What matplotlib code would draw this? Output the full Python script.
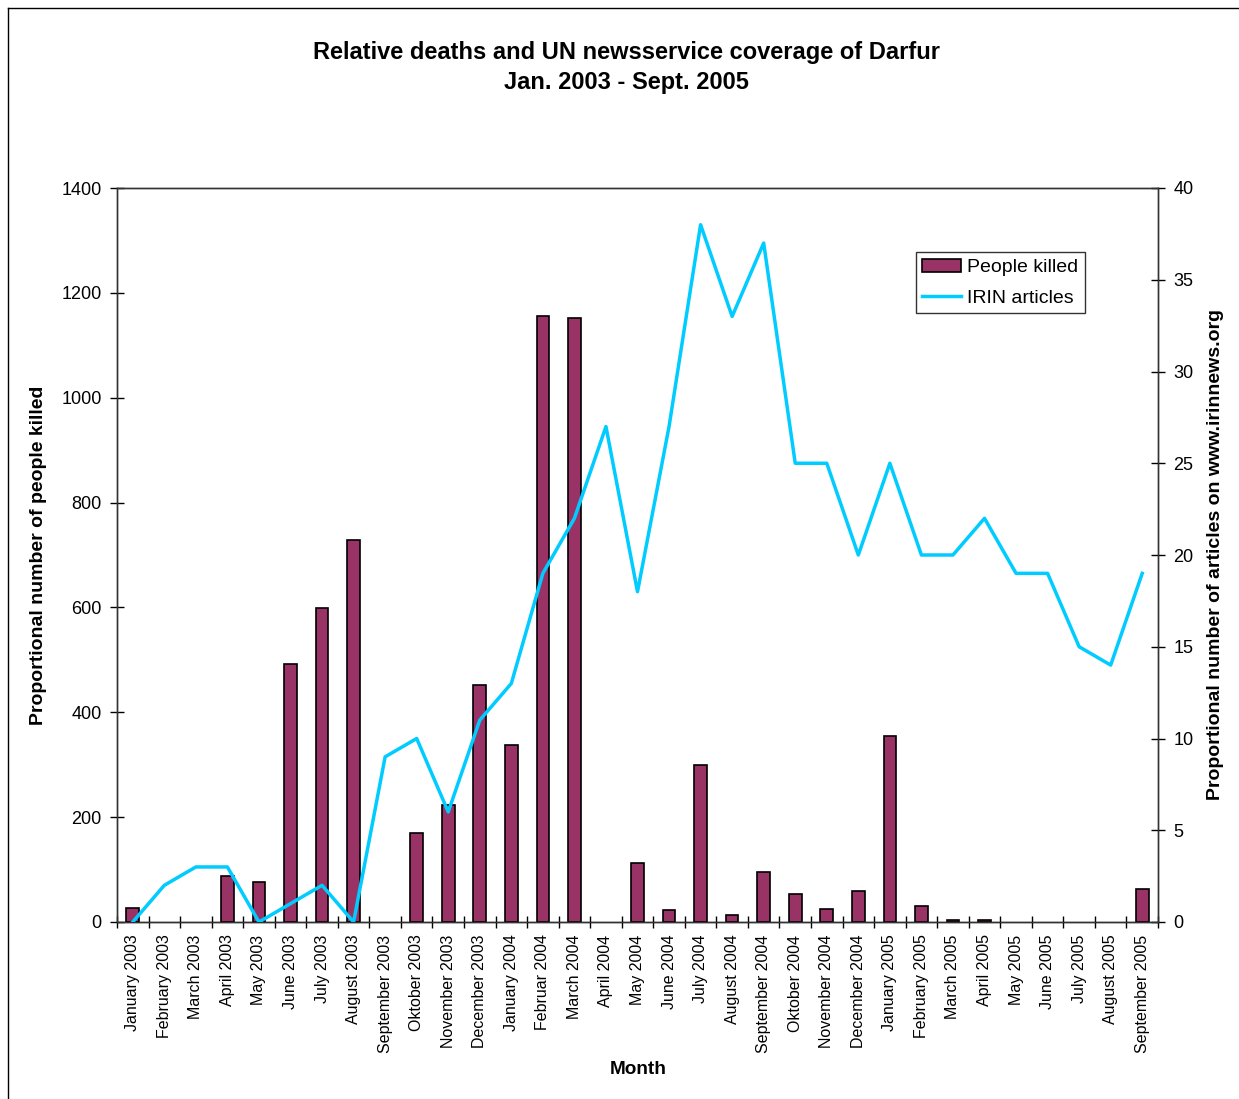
import matplotlib
matplotlib.use("Agg")
import matplotlib.pyplot as plt
from matplotlib.lines import Line2D
import numpy as np

plt.rcParams['font.family'] = ['Liberation Sans', 'DejaVu Sans']

months = ["January 2003", "February 2003", "March 2003", "April 2003", "May 2003",
          "June 2003", "July 2003", "August 2003", "September 2003", "Oktober 2003",
          "November 2003", "December 2003", "January 2004", "Februar 2004", "March 2004",
          "April 2004", "May 2004", "June 2004", "July 2004", "August 2004",
          "September 2004", "Oktober 2004", "November 2004", "December 2004", "January 2005",
          "February 2005", "March 2005", "April 2005", "May 2005", "June 2005",
          "July 2005", "August 2005", "September 2005"]
people_killed = [27, 0, 0, 88, 76, 492, 599, 729, 0, 170, 223, 452, 338, 1156, 1152,
                 0, 113, 23, 299, 13, 95, 53, 25, 59, 355, 30, 3, 3, 0, 0, 0, 0, 63]
irin_articles = [0, 2, 3, 3, 0, 1, 2, 0, 9, 10, 6, 11, 13, 19, 22, 27, 18, 27, 38, 33,
                 37, 25, 25, 20, 25, 20, 20, 22, 19, 19, 15, 14, 19]

fig = plt.figure(figsize=(12.39, 10.99), dpi=100)
ax = fig.add_axes([117/1239, 1-922/1099, (1158-117)/1239, (922-188)/1099])
ax2 = ax.twinx()

x = np.arange(len(months))
pk = np.array(people_killed, dtype=float)
mask = pk > 0
bars = ax.bar(x[mask], pk[mask], width=0.4, color='#993366', edgecolor='black',
              linewidth=1.2, label='People killed', zorder=2)
line, = ax2.plot(x, irin_articles, color='#00CCFF', linewidth=2.5, label='IRIN articles',
                 zorder=3)

ax.set_xlim(-0.5, len(months) - 0.5)
ax.set_ylim(0, 1400)
ax2.set_ylim(0, 40)
ax.set_yticks(np.arange(0, 1401, 200))
ax2.set_yticks(np.arange(0, 41, 5))

ax.set_xticks(x)
ax.set_xticklabels(months, rotation=90, fontsize=11.5)
ax.tick_params(axis='x', length=0, pad=9)
ax.set_xticks(np.arange(-0.5, len(months), 1), minor=True)
ax.tick_params(axis='x', which='minor', direction='inout', length=8, width=1)
ax.tick_params(axis='y', direction='inout', length=10, width=1, labelsize=13, pad=6)
ax2.tick_params(axis='y', direction='inout', length=10, width=1, labelsize=13, pad=6)

for a in (ax, ax2):
    for s in a.spines.values():
        s.set_linewidth(1.0)
        s.set_color('#333333')
ax.spines['bottom'].set_color('black')

ax.set_ylabel('Proportional number of people killed', fontsize=14, fontweight='bold', labelpad=10)
ax2.set_ylabel('Proportional number of articles on www.irinnews.org', fontsize=14,
               fontweight='bold', labelpad=10)
fig.text(638/1239, 1-1070/1099, 'Month', ha='center', va='center', fontsize=13.7, fontweight='bold')

fig.text(626/1239, 1-52/1099, 'Relative deaths and UN newsservice coverage of Darfur',
         ha='center', va='center', fontsize=17, fontweight='bold')
fig.text(626/1239, 1-83/1099, 'Jan. 2003 - Sept. 2005',
         ha='center', va='center', fontsize=17, fontweight='bold')

ax2.set_zorder(ax.get_zorder() + 1)
ax.patch.set_visible(True)
ax2.patch.set_visible(False)

leg = ax2.legend([bars, line], ['People killed', 'IRIN articles'], loc='upper right',
                 bbox_to_anchor=(0.93, 0.913), borderaxespad=0, fontsize=14, frameon=True,
                 fancybox=False, edgecolor='black', handlelength=2.0, borderpad=0.35,
                 labelspacing=0.65, handletextpad=0.3)
leg.get_frame().set_linewidth(1.0)

fig.add_artist(Line2D([8/1239, 8/1239], [0, 1-8/1099], transform=fig.transFigure,
                      color='black', linewidth=1))
fig.add_artist(Line2D([8/1239, 1], [1-8/1099, 1-8/1099], transform=fig.transFigure,
                      color='black', linewidth=1))

fig.savefig('out.png', dpi=100)
